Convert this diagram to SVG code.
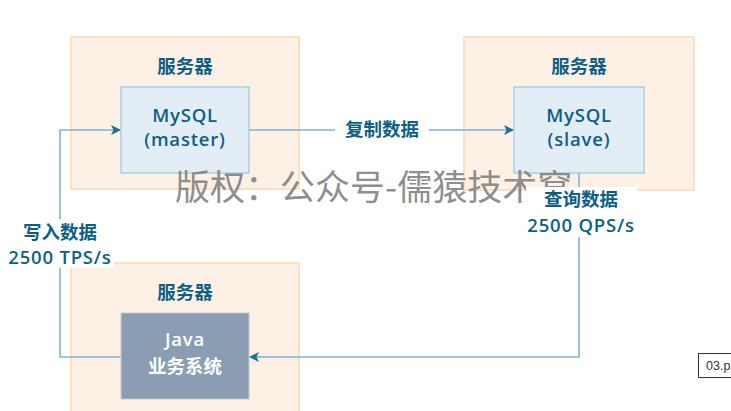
<svg xmlns="http://www.w3.org/2000/svg" width="731" height="411" viewBox="0 0 731 411">
<style>
.srv{fill:#fdf0e4;stroke:#fdd8b4;stroke-width:1.5}
.db{fill:#e3edf6;stroke:#a8cfe2;stroke-width:1.5}
.app{fill:#8a9db2;stroke:#c3ccd6;stroke-width:1}
.t{font-family:"Open Sans","Noto Sans CJK SC",sans-serif;font-size:18.5px;font-weight:600;fill:#0d5f87;text-anchor:middle}
.l{letter-spacing:0.8px}
.wt{fill:#ffffff}
.ln{fill:none;stroke:#7fb3d0;stroke-width:1.6}
.wm{font-family:"Noto Sans CJK SC",sans-serif;font-size:35px;fill:#808080;fill-opacity:0.9}
</style>
<defs>
<marker id="ah" viewBox="0 0 10 10" refX="9" refY="5" markerWidth="10" markerHeight="10" markerUnits="userSpaceOnUse" orient="auto">
<path d="M0,0 L10,5 L0,10 L2.5,5 Z" fill="#16709a"/>
</marker>
</defs>
<rect width="731" height="411" fill="#ffffff"/>
<g id="server1">
<rect class="srv" x="71" y="37" width="228" height="152"/>
<text class="t" x="185" y="73">服务器</text>
</g>
<g id="server2">
<rect class="srv" x="464" y="37" width="230" height="153"/>
<text class="t" x="579" y="73">服务器</text>
</g>
<g id="server3">
<rect class="srv" x="71" y="263" width="228" height="160"/>
<text class="t" x="185" y="299">服务器</text>
</g>
<g id="connectors">
<polyline class="ln" points="121,357 60,357 60,130 120,130" marker-end="url(#ah)"/>
<line class="ln" x1="249" y1="130" x2="513" y2="130" marker-end="url(#ah)"/>
<polyline class="ln" points="579,173 579,357 250,357" marker-end="url(#ah)"/>
</g>
<g id="master">
<rect class="db" x="121" y="87" width="128" height="86"/>
<text class="t l" x="185" y="122">MySQL</text>
<text class="t l" x="185" y="146">(master)</text>
</g>
<g id="slave">
<rect class="db" x="514" y="87" width="130" height="86"/>
<text class="t l" x="579" y="122">MySQL</text>
<text class="t l" x="579" y="146">(slave)</text>
</g>
<g id="java">
<rect class="app" x="121" y="313" width="128" height="86"/>
<text class="t l wt" x="185" y="346" style="fill:#ffffff">Java</text>
<text class="t wt" x="185" y="373" style="fill:#ffffff">业务系统</text>
</g>
<text class="wm" x="175" y="200">版权：公众号-儒猿技术窝</text>
<g id="labels">
<rect x="335" y="117" width="94" height="24" fill="#ffffff"/>
<text class="t" x="382" y="136">复制数据</text>
<rect x="4" y="219" width="110" height="49" fill="#ffffff"/>
<text class="t" x="60" y="239">写入数据</text>
<text class="t l" x="60" y="264">2500 TPS/s</text>
<rect x="526" y="187" width="111" height="50" fill="#ffffff"/>
<text class="t" x="581" y="206">查询数据</text>
<text class="t l" x="581" y="232">2500 QPS/s</text>
</g>
<g id="tooltip">
<rect x="698.5" y="353.5" width="40" height="24" fill="#ffffff" stroke="#333333" stroke-width="1"/>
<text x="706" y="370" font-family="Liberation Sans,sans-serif" font-size="12.5" fill="#333333">03.p</text>
</g>
</svg>
